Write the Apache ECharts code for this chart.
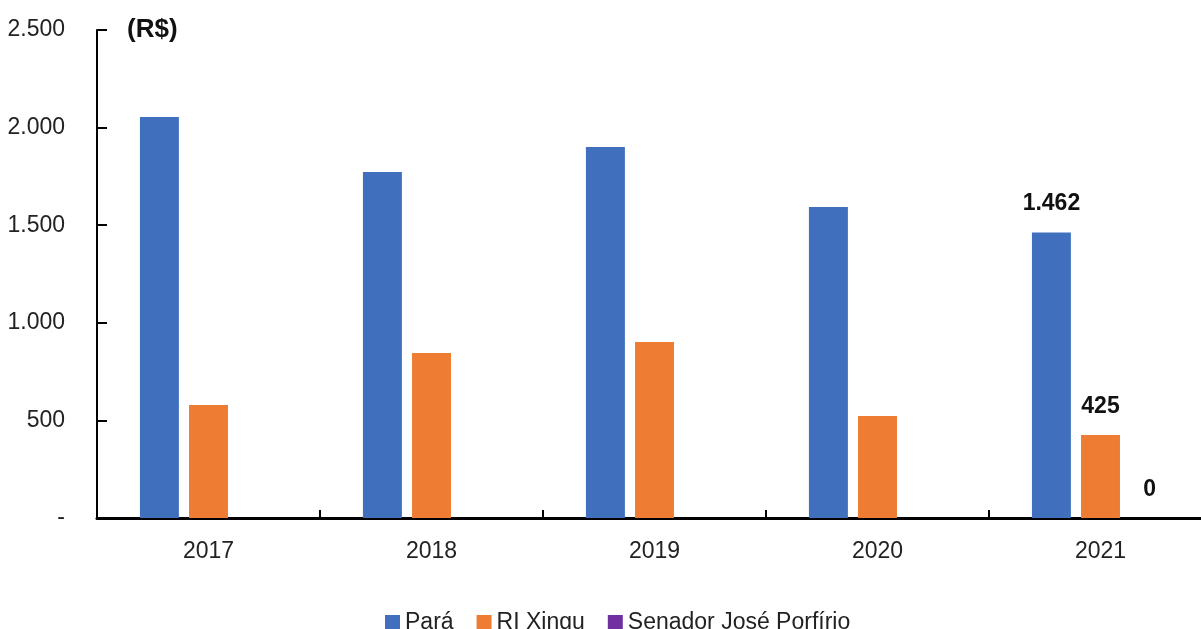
<!DOCTYPE html>
<html>
<head>
<meta charset="utf-8">
<script src="https://cdn.jsdelivr.net/npm/echarts@6/dist/echarts.min.js"></script>
<style>html,body{margin:0;padding:0;background:#fff}#c{width:1201px;height:629px}</style>
</head>
<body>
<div id="c"></div>
<script>
const categories = ['2017', '2018', '2019', '2020', '2021'];
const seriesNames = ['Pará', 'RI Xingu', 'Senador José Porfírio'];
const para = [2054, 1772, 1900, 1593, 1462];
const riXingu = [579, 845, 902, 523, 425];
const senador = [0, 0, 0, 0, 0];
const yTicks = [0, 500, 1000, 1500, 2000, 2500];
const unitLabel = '(R$)';

const FONT = '"Liberation Sans", Arial, sans-serif';
function fmt(v) {
  if (v === 0) return '-';
  return String(v).replace(/\B(?=(\d{3})+(?!\d))/g, '.');
}
function fmtLabel(v) {
  return String(v).replace(/\B(?=(\d{3})+(?!\d))/g, '.');
}
const colors = ['#3F6FBD', '#EE7D33', '#7030A0'];
function mk(name, arr, color) {
  return {
    name: name,
    type: 'bar',
    barGap: '26%',
    barCategoryGap: '38.5%',
    itemStyle: { color: color },
    data: arr.map((v, i) => ({
      value: v,
      label: {
        show: i === arr.length - 1,
        position: 'top',
        distance: 17,
        formatter: p => fmtLabel(p.value),
        fontFamily: FONT,
        fontWeight: 'bold',
        fontSize: 23,
        color: '#111'
      }
    }))
  };
}
const chart = echarts.init(document.getElementById('c'));
chart.setOption({
  animation: false,
  backgroundColor: '#fff',
  grid: { left: 97, width: 1115, top: 30, bottom: 111, containLabel: false, outerBoundsMode: 'none' },
  legend: {
    data: seriesNames,
    left: 380,
    top: 606,
    itemWidth: 15,
    itemHeight: 15,
    itemGap: 23,
    icon: 'rect',
    textStyle: { fontFamily: FONT, fontSize: 23, color: '#222' }
  },
  xAxis: {
    type: 'category',
    data: categories,
    axisLine: { lineStyle: { color: '#000', width: 3 } },
    axisTick: { show: true, inside: true, length: 8, lineStyle: { color: '#000', width: 2 }, alignWithLabel: false },
    axisLabel: { margin: 22, fontFamily: FONT, fontSize: 23, color: '#222' }
  },
  yAxis: {
    type: 'value',
    min: 0,
    max: 2500,
    interval: 500,
    axisLine: { show: true, lineStyle: { color: '#000', width: 2 } },
    axisTick: { show: true, inside: true, length: 10, lineStyle: { color: '#000', width: 2 } },
    splitLine: { show: false },
    axisLabel: { margin: 32, formatter: v => fmt(v), fontFamily: FONT, fontSize: 23, color: '#222' }
  },
  graphic: [{
    type: 'text',
    left: 127,
    top: 17,
    style: { text: unitLabel, fontFamily: FONT, fontWeight: 'bold', fontSize: 26, fill: '#111' }
  }],
  series: [
    mk(seriesNames[0], para, colors[0]),
    mk(seriesNames[1], riXingu, colors[1]),
    mk(seriesNames[2], senador, colors[2])
  ]
});
</script>
</body>
</html>
